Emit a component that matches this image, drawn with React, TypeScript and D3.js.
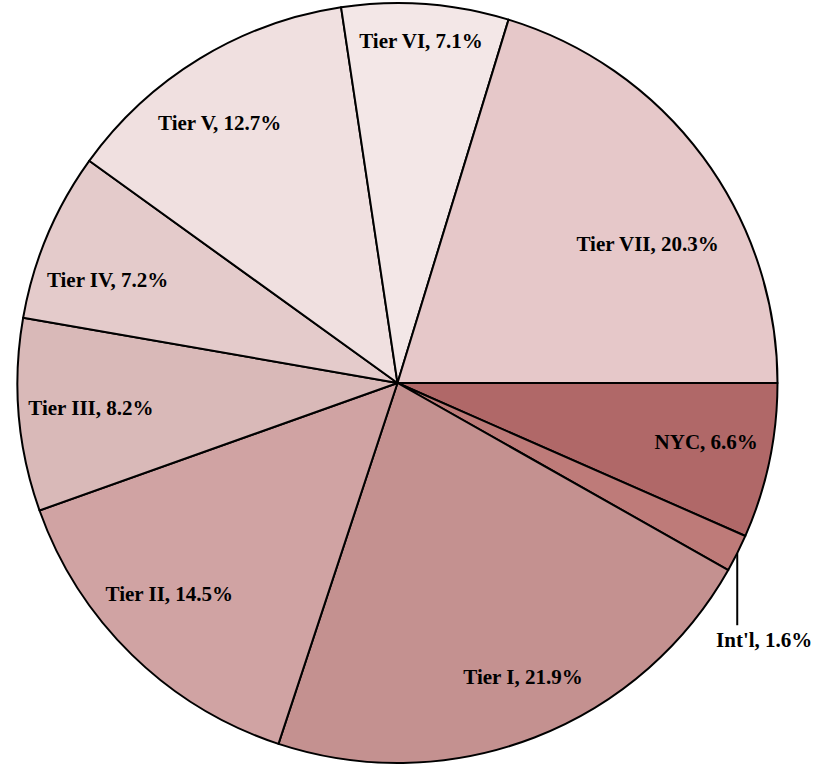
import { useEffect, useRef } from 'react';
import * as d3 from 'd3';

const categories = ['NYC', "Int'l", 'Tier I', 'Tier II', 'Tier III', 'Tier IV', 'Tier V', 'Tier VI', 'Tier VII'];
const shares = [6.6, 1.6, 21.9, 14.5, 8.2, 7.2, 12.7, 7.1, 20.3];
const sliceColors = ['#b06868', '#be7b79', '#c49190', '#d0a3a3', '#d9b9b8', '#e4cbcb', '#f0e0e0', '#f3e7e7', '#e6c8c9'];
const outsideLabels = ["Int'l"];

// hand nudges for the inside labels (px), on top of the rim fit
const labelNudge: Record<string, [number, number]> = {
  NYC: [2, -5],
  'Tier I': [6, -15],
  'Tier II': [-10, -12],
  'Tier III': [-5, -1],
  'Tier IV': [-8, 16],
  'Tier V': [-10, 15],
  'Tier VI': [-2, 3],
  'Tier VII': [8, 40],
};

export default function App() {
  const svgRef = useRef<SVGSVGElement>(null);

  useEffect(() => {
    if (!svgRef.current) return;
    const svg = d3.select(svgRef.current);
    svg.selectAll('*').remove();

    const width = 836;
    const height = 765;
    const cx = 397.5;
    const cy = 383;
    const R = 380;

    svg.attr('width', width).attr('height', height);

    const data = categories.map((name, i) => ({ name, value: shares[i], color: sliceColors[i] }));

    const pie = d3
      .pie<{ name: string; value: number; color: string }>()
      .value((d) => d.value)
      .sort(null)
      .startAngle(Math.PI / 2)
      .endAngle(Math.PI / 2 + 2 * Math.PI);

    const arcs = pie(data);
    const arc = d3.arc<d3.PieArcDatum<{ name: string; value: number; color: string }>>().innerRadius(0).outerRadius(R);

    const g = svg.append('g').attr('transform', `translate(${cx},${cy})`);

    g.selectAll('path.slice')
      .data(arcs)
      .enter()
      .append('path')
      .attr('class', 'slice')
      .attr('d', arc)
      .attr('fill', (d) => d.data.color)
      .attr('stroke', '#000')
      .attr('stroke-width', 2)
      .attr('stroke-linejoin', 'round');

    const font = '"Liberation Serif", "Times New Roman", serif';
    const pad = 14;
    const halfH = 10;

    arcs.forEach((d) => {
      const mid = (d.startAngle + d.endAngle) / 2 - Math.PI / 2;
      const c = Math.cos(mid);
      const s = Math.sin(mid);
      const label = `${d.data.name}, ${d.data.value.toFixed(1)}%`;

      if (outsideLabels.includes(d.data.name)) {
        const x0 = R * c;
        const y0 = R * s;
        const y1 = y0 + 72;
        g.append('line')
          .attr('x1', x0)
          .attr('y1', y0)
          .attr('x2', x0)
          .attr('y2', y1)
          .attr('stroke', '#000')
          .attr('stroke-width', 2);
        g.append('text')
          .attr('x', x0 + 27)
          .attr('y', y1 + 15)
          .attr('dy', '0.33em')
          .attr('text-anchor', 'middle')
          .attr('font-family', font)
          .attr('font-weight', 'bold')
          .attr('font-size', 21)
          .attr('fill', '#000')
          .text(label);
        return;
      }

      const t = g
        .append('text')
        .attr('text-anchor', 'middle')
        .attr('dy', '0.33em')
        .attr('font-family', font)
        .attr('font-weight', 'bold')
        .attr('font-size', 21)
        .attr('fill', '#000')
        .text(label);
      const w = (t.node() as SVGTextElement).getComputedTextLength();

      // push the label box outward along the bisector until a corner meets the rim
      let lo = 0;
      let hi = R;
      for (let k = 0; k < 40; k++) {
        const r = (lo + hi) / 2;
        const dist = Math.hypot(r * Math.abs(c) + w / 2, r * Math.abs(s) + halfH);
        if (dist > R - pad) hi = r;
        else lo = r;
      }
      const nudge = labelNudge[d.data.name] || [0, 0];
      t.attr('x', lo * c + nudge[0]).attr('y', lo * s + nudge[1]);
    });
  }, []);

  return <svg ref={svgRef} style={{ position: 'absolute', left: 0, top: 0 }} />;
}
